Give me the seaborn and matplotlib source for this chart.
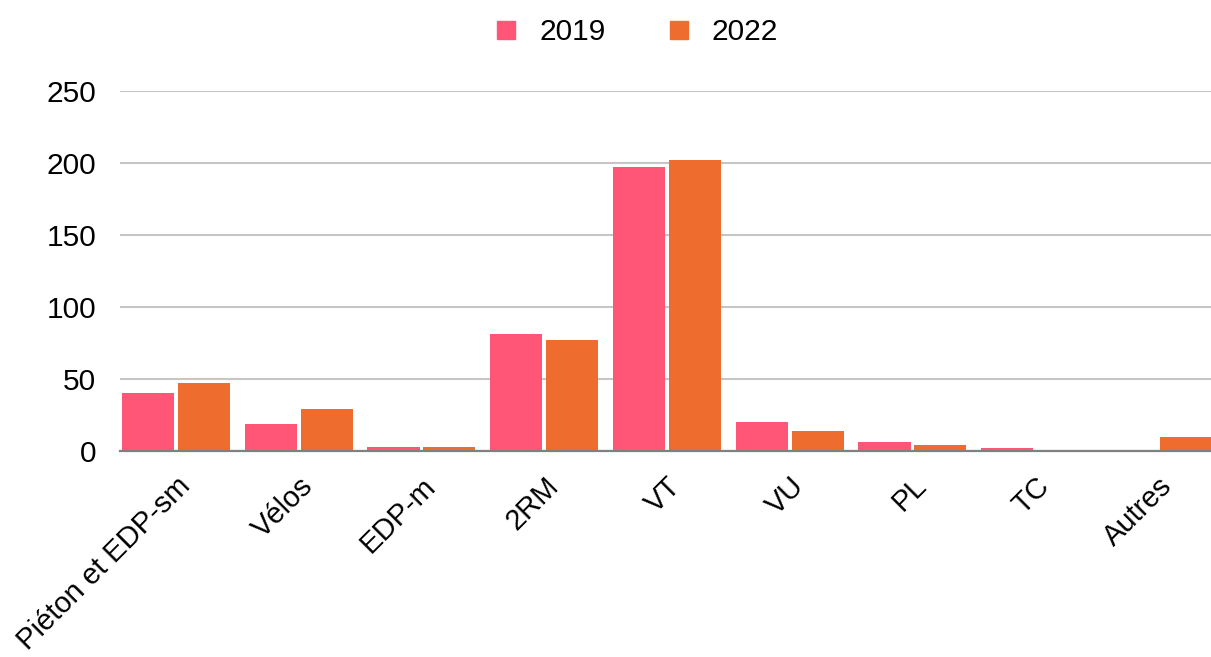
import matplotlib
matplotlib.use("Agg")
import matplotlib.pyplot as plt
import seaborn as sns
import pandas as pd
from matplotlib.lines import Line2D

categories = ["Piéton et EDP-sm", "Vélos", "EDP-m", "2RM", "VT", "VU", "PL", "TC", "Autres"]
values_2019 = [40, 19, 3, 81, 197, 20, 6, 2, 1]
values_2022 = [47, 29, 3, 77, 202, 14, 4, 0.5, 10]
series = ["2019", "2022"]
colors = {"2019": "#FF5678", "2022": "#EE6C2D"}
y_ticks = [0, 50, 100, 150, 200, 250]

df = pd.DataFrame({
    "cat": categories * 2,
    "val": values_2019 + values_2022,
    "year": ["2019"] * len(categories) + ["2022"] * len(categories),
})

sns.set_style("white")
plt.rcParams["font.family"] = ["Liberation Sans", "DejaVu Sans"]
plt.rcParams["text.color"] = "black"
plt.rcParams["xtick.color"] = "black"
plt.rcParams["ytick.color"] = "black"

FS = 21.5
fig = plt.figure(figsize=(12.11, 6.57), dpi=100)
ax = fig.add_axes([120 / 1211, 1 - 451 / 657, 1 - 120 / 1211, (451 - 91) / 657])

sns.barplot(data=df, x="cat", y="val", hue="year", hue_order=series,
            palette=colors, width=0.912, gap=0.07, ax=ax, legend=False,
            saturation=1, linewidth=0)

cw = 122.75
ax.set_xlim(-0.5 + (120 - 114.6) / cw, (1211 - 114.6) / cw - 0.5)
ax.set_ylim(0, 250)
ax.set_yticks(y_ticks)
ax.set_yticklabels([str(t) for t in y_ticks], fontsize=FS)
ax.set_xlabel("")
ax.set_ylabel("")
ax.yaxis.grid(True, color="#c6c6c6", linewidth=1.5)
ax.set_axisbelow(True)
for s in ["top", "right", "left"]:
    ax.spines[s].set_visible(False)
ax.spines["bottom"].set_color("#808080")
ax.spines["bottom"].set_linewidth(1.6)
ax.spines["bottom"].set_zorder(5)
ax.tick_params(axis="y", length=0, pad=17, labelcolor="black")
ax.tick_params(axis="x", length=0, pad=15, labelcolor="black")
for lbl in ax.get_xticklabels():
    lbl.set_rotation(45)
    lbl.set_ha("right")
    lbl.set_va("top")
    lbl.set_rotation_mode("anchor")
    lbl.set_fontsize(21)

handles = [Line2D([0], [0], marker="s", linestyle="", markersize=13,
                  markerfacecolor=colors[s], markeredgecolor=colors[s]) for s in series]
fig.legend(handles, series, loc="center", bbox_to_anchor=(637 / 1211, 1 - 32 / 657),
           ncol=2, frameon=False, fontsize=FS, handlelength=0.7,
           handletextpad=0.75, columnspacing=2.1)

fig.savefig("out.png", dpi=100)
